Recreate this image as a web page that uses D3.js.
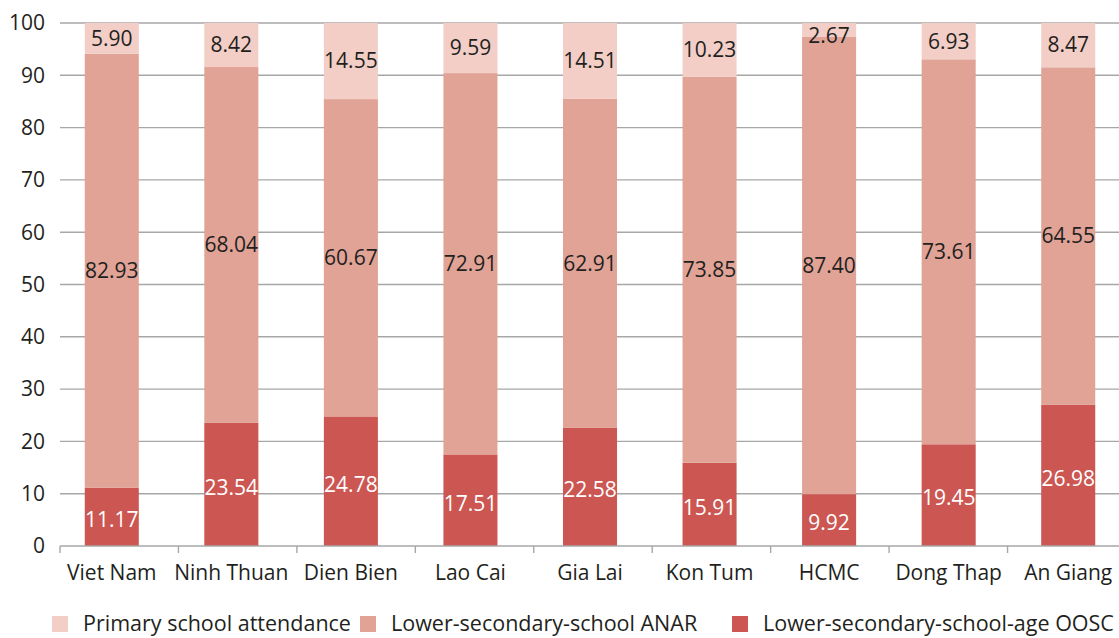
<!DOCTYPE html>
<html>
<head>
<meta charset="utf-8">
<script src="https://cdn.jsdelivr.net/npm/d3@7"></script>
<style>
  body { margin: 0; background: #fff; }
  text { font-family: "Open Sans", sans-serif; fill: #231f20; }
</style>
</head>
<body>
<svg id="chart" width="1119" height="638"></svg>
<script>
// data
const categories = ["Viet Nam", "Ninh Thuan", "Dien Bien", "Lao Cai", "Gia Lai", "Kon Tum", "HCMC", "Dong Thap", "An Giang"];
const oosc    = [11.17, 23.54, 24.78, 17.51, 22.58, 15.91, 9.92, 19.45, 26.98];
const anar    = [82.93, 68.04, 60.67, 72.91, 62.91, 73.85, 87.40, 73.61, 64.55];
const primary = [5.90, 8.42, 14.55, 9.59, 14.51, 10.23, 2.67, 6.93, 8.47];
const seriesNames = ["Primary school attendance", "Lower-secondary-school ANAR", "Lower-secondary-school-age OOSC"];
const yTicks = [0, 10, 20, 30, 40, 50, 60, 70, 80, 90, 100];

const colors = {
  oosc: "#cc5652",
  anar: "#e0a396",
  primary: "#f2cec7"
};

const fontSize = "21px";
const svg = d3.select("#chart");

const plotLeft = 60, plotRight = 1126, plotTop = 23, plotBottom = 546;

// bars sit on a slightly wider step than the category ticks
const x = d3.scaleBand().domain(categories).range([52, 1128]).paddingInner(0.548).paddingOuter(0.274);
const xTick = d3.scaleBand().domain(categories).range([plotLeft, plotRight]);
const y = d3.scaleLinear().domain([0, 100]).range([plotBottom, plotTop]);

// gridlines
svg.append("g")
    .selectAll("line")
    .data(yTicks.filter(d => d > 0))
    .enter().append("line")
    .attr("x1", plotLeft).attr("x2", plotRight)
    .attr("y1", d => y(d)).attr("y2", d => y(d))
    .attr("stroke", "#a7a7a7")
    .attr("stroke-width", 1.4);

// y labels
svg.append("g")
    .selectAll("text")
    .data(yTicks)
    .enter().append("text")
    .attr("x", 45)
    .attr("y", d => y(d))
    .attr("dy", "0.35em")
    .attr("text-anchor", "end")
    .style("font-size", fontSize)
    .text(d => d);

// stacked rows
const rows = categories.map((c, i) => ({ cat: c, oosc: oosc[i], anar: anar[i], primary: primary[i] }));
const keys = ["oosc", "anar", "primary"];
const stacked = d3.stack().keys(keys)(rows);

const layer = svg.append("g")
    .selectAll("g")
    .data(stacked)
    .enter().append("g")
    .attr("fill", d => colors[d.key]);

layer.selectAll("rect")
    .data(d => d)
    .enter().append("rect")
    .attr("x", d => x(d.data.cat))
    .attr("width", x.bandwidth())
    .attr("y", d => y(d[1]))
    .attr("height", d => y(d[0]) - y(d[1]));

// value labels
layer.selectAll("text")
    .data(d => d.map(v => Object.assign({ key: d.key }, v)))
    .enter().append("text")
    .attr("x", d => x(d.data.cat) + x.bandwidth() / 2)
    .attr("y", d => Math.max((y(d[0]) + y(d[1])) / 2 + (d.key === "oosc" ? 3 : 0), y(100) + 13))
    .attr("dy", "0.35em")
    .attr("text-anchor", "middle")
    .style("font-size", fontSize)
    .style("fill", d => d.key === "oosc" ? "#fff" : "#231f20")
    .text(d => d.data[d.key].toFixed(2));

// x axis
const xAxis = svg.append("g");
xAxis.append("line")
    .attr("x1", plotLeft).attr("x2", plotRight)
    .attr("y1", plotBottom).attr("y2", plotBottom)
    .attr("stroke", "#a7a7a7").attr("stroke-width", 1.4);
xAxis.selectAll(".tick")
    .data(categories)
    .enter().append("line")
    .attr("x1", d => xTick(d)).attr("x2", d => xTick(d))
    .attr("y1", plotBottom).attr("y2", plotBottom + 7)
    .attr("stroke", "#a7a7a7").attr("stroke-width", 1.4);
xAxis.selectAll("text")
    .data(categories)
    .enter().append("text")
    .attr("x", d => x(d) + x.bandwidth() / 2)
    .attr("y", 573)
    .attr("dy", "0.35em")
    .attr("text-anchor", "middle")
    .style("font-size", fontSize)
    .text(d => d);

// legend
const legendX = [52, 360, 732];
const legendColors = [colors.primary, colors.anar, colors.oosc];
const legend = svg.append("g")
    .selectAll("g")
    .data(seriesNames)
    .enter().append("g")
    .attr("transform", (d, i) => `translate(${legendX[i]},623)`);
legend.append("rect")
    .attr("x", 0).attr("y", -7)
    .attr("width", 16).attr("height", 16)
    .attr("fill", (d, i) => legendColors[i]);
legend.append("text")
    .attr("x", 31)
    .attr("dy", "0.35em")
    .style("font-size", "21.5px")
    .text(d => d);
</script>
</body>
</html>
